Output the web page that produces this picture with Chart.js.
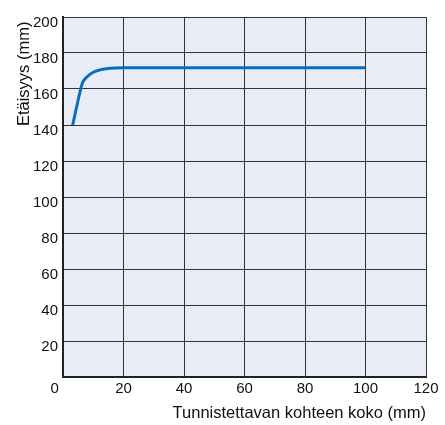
<!DOCTYPE html>
<html><head><meta charset="utf-8">
<script src="https://cdn.jsdelivr.net/npm/chart.js@4/dist/chart.umd.min.js"></script>
<style>html,body{margin:0;padding:0;background:#fff}#wrap{width:445px;height:425px}</style>
</head><body><div id="wrap"><canvas id="c" width="445" height="425"></canvas></div>
<script>
const xValues = [3.2, 4.5, 5.85, 6.5, 7.8, 10, 12.2, 15.5, 20, 100];
const yValues = [140, 150, 160, 163.7, 166.5, 169.3, 170.6, 171.5, 171.8, 171.8];
const xTitle = 'Tunnistettavan kohteen koko (mm)';
const yTitle = 'Etäisyys (mm) ';
const xRange = [0, 120, 20];
const yRange = [0, 200, 20];

const FONT = "'Liberation Sans', Arial, Helvetica, sans-serif";
const bgPlugin = {
  id: 'bg',
  beforeDraw(chart) {
    const {ctx, chartArea: a} = chart;
    ctx.save(); ctx.fillStyle = '#e8ecf6';
    ctx.fillRect(a.left, a.top, a.right - a.left, a.bottom - a.top);
    ctx.restore();
  }
};
Chart.defaults.font.family = FONT;
Chart.defaults.color = '#111';
new Chart(document.getElementById('c'), {
  type: 'line',
  data: { datasets: [{
    data: xValues.map((x, i) => ({x, y: yValues[i]})),
    borderColor: '#0a6cbc', borderWidth: 3, pointRadius: 0,
    cubicInterpolationMode: 'monotone', fill: false
  }]},
  options: {
    responsive: false, animation: false,
    plugins: { legend: {display: false}, tooltip: {enabled: false} },
    layout: { padding: {top: 13, right: 19, left: 0, bottom: 0} },
    scales: {
      x: {
        type: 'linear', min: xRange[0], max: xRange[1],
        afterFit(s) { s.height = 48; },
        ticks: { stepSize: xRange[2], padding: 3, maxRotation: 0,
          font: {size: 15},
          callback: v => v === 0 ? '0    ' : String(v) },
        grid: { color: '#333', lineWidth: 1, drawTicks: false },
        border: { color: '#222', width: 2 },
        title: { display: true, text: xTitle, align: 'end', font: {size: 16.5}, padding: {top: 0, bottom: 2} }
      },
      y: {
        type: 'linear', min: yRange[0], max: yRange[1],
        afterFit(s) { s.width = 63; },
        ticks: { stepSize: yRange[2], padding: 5,
          font: {size: 15, lineHeight: 0.8},
          callback: v => v === 0 ? '' : ['', String(v)] },
        grid: { color: '#333', lineWidth: 1, drawTicks: false },
        border: { color: '#222', width: 2 },
        title: { display: true, text: yTitle, align: 'end', font: {size: 16.5}, padding: {top: 15, bottom: 0} }
      }
    }
  },
  plugins: [bgPlugin]
});
</script></body></html>
